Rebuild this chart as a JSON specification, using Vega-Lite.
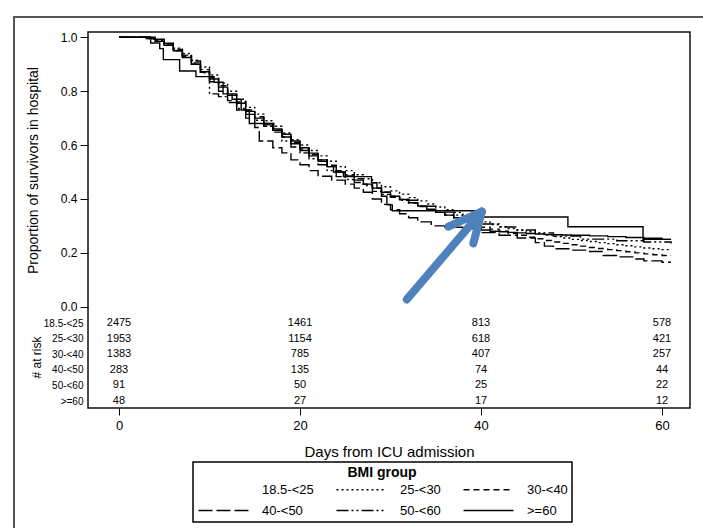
{
  "$schema": "https://vega.github.io/schema/vega-lite/v6.json",
  "width": 602,
  "height": 376,
  "autosize": {"type": "none"},
  "padding": {"left": 88, "top": 32, "right": 13, "bottom": 120},
  "background": "white",
  "config": {
    "font": "Liberation Sans",
    "view": {"stroke": "#111", "strokeWidth": 1.5},
    "axis": {"labelColor": "black", "titleColor": "black", "tickColor": "black", "titleFontWeight": "normal", "grid": false, "domain": false},
    "legend": {
      "orient": "none", "legendX": 105, "legendY": 430, "direction": "horizontal", "columns": 3,
      "titleAnchor": "middle", "titleFontSize": 14, "titleFontWeight": "bold", "titleColor": "black", "titlePadding": 3,
      "labelFontSize": 13, "labelColor": "black", "symbolType": "M-5,0H5", "symbolSize": 100, "symbolOffset": 20,
      "symbolStrokeWidth": 1.3, "symbolStrokeColor": "black", "strokeColor": "black", "strokeWidth": 1.5, "padding": 4,
      "columnPadding": 19, "rowPadding": 7, "labelOffset": 32
    }
  },
  "datasets": {
    "km": [
      {"group":"18.5-<25","day":0,"surv":1},{"group":"18.5-<25","day":3,"surv":0.995},{"group":"18.5-<25","day":4,"surv":0.985},{"group":"18.5-<25","day":5,"surv":0.97},{"group":"18.5-<25","day":6,"surv":0.95},{"group":"18.5-<25","day":7,"surv":0.925},{"group":"18.5-<25","day":8,"surv":0.9},{"group":"18.5-<25","day":9,"surv":0.872},{"group":"18.5-<25","day":10,"surv":0.845},{"group":"18.5-<25","day":11,"surv":0.815},{"group":"18.5-<25","day":12,"surv":0.785},{"group":"18.5-<25","day":13,"surv":0.755},{"group":"18.5-<25","day":14,"surv":0.725},{"group":"18.5-<25","day":15,"surv":0.7},{"group":"18.5-<25","day":16,"surv":0.675},{"group":"18.5-<25","day":17,"surv":0.655},{"group":"18.5-<25","day":18,"surv":0.63},{"group":"18.5-<25","day":19,"surv":0.605},{"group":"18.5-<25","day":20,"surv":0.58},{"group":"18.5-<25","day":21,"surv":0.56},{"group":"18.5-<25","day":22,"surv":0.54},{"group":"18.5-<25","day":23,"surv":0.52},{"group":"18.5-<25","day":24,"surv":0.5},{"group":"18.5-<25","day":25,"surv":0.485},{"group":"18.5-<25","day":26,"surv":0.47},{"group":"18.5-<25","day":27,"surv":0.455},{"group":"18.5-<25","day":28,"surv":0.44},{"group":"18.5-<25","day":29,"surv":0.425},{"group":"18.5-<25","day":30,"surv":0.41},{"group":"18.5-<25","day":31,"surv":0.398},{"group":"18.5-<25","day":32,"surv":0.386},{"group":"18.5-<25","day":33,"surv":0.374},{"group":"18.5-<25","day":34,"surv":0.362},{"group":"18.5-<25","day":35,"surv":0.35},{"group":"18.5-<25","day":36,"surv":0.34},{"group":"18.5-<25","day":37,"surv":0.33},{"group":"18.5-<25","day":38,"surv":0.318},{"group":"18.5-<25","day":39,"surv":0.304},{"group":"18.5-<25","day":40,"surv":0.285},{"group":"18.5-<25","day":41,"surv":0.28},{"group":"18.5-<25","day":42,"surv":0.278},{"group":"18.5-<25","day":43,"surv":0.276},{"group":"18.5-<25","day":44,"surv":0.274},{"group":"18.5-<25","day":45,"surv":0.272},{"group":"18.5-<25","day":46,"surv":0.27},{"group":"18.5-<25","day":47,"surv":0.268},{"group":"18.5-<25","day":48,"surv":0.267},{"group":"18.5-<25","day":49,"surv":0.266},{"group":"18.5-<25","day":50,"surv":0.265},{"group":"18.5-<25","day":52,"surv":0.263},{"group":"18.5-<25","day":54,"surv":0.26},{"group":"18.5-<25","day":56,"surv":0.257},{"group":"18.5-<25","day":58,"surv":0.254},{"group":"18.5-<25","day":60,"surv":0.25},{"group":"18.5-<25","day":61,"surv":0.25},
      {"group":"25-<30","day":0,"surv":1},{"group":"25-<30","day":3,"surv":0.996},{"group":"25-<30","day":4,"surv":0.99},{"group":"25-<30","day":5,"surv":0.975},{"group":"25-<30","day":6,"surv":0.96},{"group":"25-<30","day":7,"surv":0.94},{"group":"25-<30","day":8,"surv":0.915},{"group":"25-<30","day":9,"surv":0.89},{"group":"25-<30","day":10,"surv":0.86},{"group":"25-<30","day":11,"surv":0.83},{"group":"25-<30","day":12,"surv":0.8},{"group":"25-<30","day":13,"surv":0.77},{"group":"25-<30","day":14,"surv":0.74},{"group":"25-<30","day":15,"surv":0.715},{"group":"25-<30","day":16,"surv":0.69},{"group":"25-<30","day":17,"surv":0.67},{"group":"25-<30","day":18,"surv":0.645},{"group":"25-<30","day":19,"surv":0.62},{"group":"25-<30","day":20,"surv":0.6},{"group":"25-<30","day":21,"surv":0.58},{"group":"25-<30","day":22,"surv":0.56},{"group":"25-<30","day":23,"surv":0.54},{"group":"25-<30","day":24,"surv":0.52},{"group":"25-<30","day":25,"surv":0.505},{"group":"25-<30","day":26,"surv":0.49},{"group":"25-<30","day":27,"surv":0.475},{"group":"25-<30","day":28,"surv":0.46},{"group":"25-<30","day":29,"surv":0.445},{"group":"25-<30","day":30,"surv":0.43},{"group":"25-<30","day":31,"surv":0.418},{"group":"25-<30","day":32,"surv":0.405},{"group":"25-<30","day":33,"surv":0.393},{"group":"25-<30","day":34,"surv":0.381},{"group":"25-<30","day":35,"surv":0.37},{"group":"25-<30","day":36,"surv":0.36},{"group":"25-<30","day":37,"surv":0.35},{"group":"25-<30","day":38,"surv":0.338},{"group":"25-<30","day":39,"surv":0.326},{"group":"25-<30","day":40,"surv":0.315},{"group":"25-<30","day":41,"surv":0.305},{"group":"25-<30","day":42,"surv":0.297},{"group":"25-<30","day":43,"surv":0.29},{"group":"25-<30","day":44,"surv":0.284},{"group":"25-<30","day":45,"surv":0.278},{"group":"25-<30","day":46,"surv":0.272},{"group":"25-<30","day":47,"surv":0.266},{"group":"25-<30","day":48,"surv":0.26},{"group":"25-<30","day":49,"surv":0.255},{"group":"25-<30","day":50,"surv":0.25},{"group":"25-<30","day":51,"surv":0.246},{"group":"25-<30","day":52,"surv":0.242},{"group":"25-<30","day":53,"surv":0.238},{"group":"25-<30","day":54,"surv":0.234},{"group":"25-<30","day":55,"surv":0.23},{"group":"25-<30","day":56,"surv":0.226},{"group":"25-<30","day":57,"surv":0.222},{"group":"25-<30","day":58,"surv":0.218},{"group":"25-<30","day":59,"surv":0.215},{"group":"25-<30","day":60,"surv":0.212},{"group":"25-<30","day":61,"surv":0.212},
      {"group":"30-<40","day":0,"surv":1},{"group":"30-<40","day":3,"surv":0.995},{"group":"30-<40","day":4,"surv":0.985},{"group":"30-<40","day":5,"surv":0.97},{"group":"30-<40","day":6,"surv":0.95},{"group":"30-<40","day":7,"surv":0.93},{"group":"30-<40","day":8,"surv":0.905},{"group":"30-<40","day":9,"surv":0.88},{"group":"30-<40","day":10,"surv":0.85},{"group":"30-<40","day":11,"surv":0.82},{"group":"30-<40","day":12,"surv":0.79},{"group":"30-<40","day":13,"surv":0.76},{"group":"30-<40","day":14,"surv":0.73},{"group":"30-<40","day":15,"surv":0.705},{"group":"30-<40","day":16,"surv":0.68},{"group":"30-<40","day":17,"surv":0.655},{"group":"30-<40","day":18,"surv":0.63},{"group":"30-<40","day":19,"surv":0.61},{"group":"30-<40","day":20,"surv":0.585},{"group":"30-<40","day":21,"surv":0.565},{"group":"30-<40","day":22,"surv":0.545},{"group":"30-<40","day":23,"surv":0.525},{"group":"30-<40","day":24,"surv":0.505},{"group":"30-<40","day":25,"surv":0.49},{"group":"30-<40","day":26,"surv":0.475},{"group":"30-<40","day":27,"surv":0.455},{"group":"30-<40","day":28,"surv":0.44},{"group":"30-<40","day":29,"surv":0.425},{"group":"30-<40","day":30,"surv":0.41},{"group":"30-<40","day":31,"surv":0.398},{"group":"30-<40","day":32,"surv":0.385},{"group":"30-<40","day":33,"surv":0.372},{"group":"30-<40","day":34,"surv":0.36},{"group":"30-<40","day":35,"surv":0.35},{"group":"30-<40","day":36,"surv":0.34},{"group":"30-<40","day":37,"surv":0.328},{"group":"30-<40","day":38,"surv":0.316},{"group":"30-<40","day":39,"surv":0.305},{"group":"30-<40","day":40,"surv":0.295},{"group":"30-<40","day":41,"surv":0.288},{"group":"30-<40","day":42,"surv":0.28},{"group":"30-<40","day":43,"surv":0.272},{"group":"30-<40","day":44,"surv":0.265},{"group":"30-<40","day":45,"surv":0.258},{"group":"30-<40","day":46,"surv":0.252},{"group":"30-<40","day":47,"surv":0.246},{"group":"30-<40","day":48,"surv":0.24},{"group":"30-<40","day":49,"surv":0.235},{"group":"30-<40","day":50,"surv":0.23},{"group":"30-<40","day":51,"surv":0.225},{"group":"30-<40","day":52,"surv":0.22},{"group":"30-<40","day":53,"surv":0.216},{"group":"30-<40","day":54,"surv":0.212},{"group":"30-<40","day":55,"surv":0.208},{"group":"30-<40","day":56,"surv":0.204},{"group":"30-<40","day":57,"surv":0.2},{"group":"30-<40","day":58,"surv":0.196},{"group":"30-<40","day":59,"surv":0.193},{"group":"30-<40","day":60,"surv":0.19},{"group":"30-<40","day":61,"surv":0.19},
      {"group":"40-<50","day":0,"surv":1},{"group":"40-<50","day":3.5,"surv":0.993},{"group":"40-<50","day":5,"surv":0.975},{"group":"40-<50","day":6,"surv":0.955},{"group":"40-<50","day":7,"surv":0.93},{"group":"40-<50","day":8,"surv":0.9},{"group":"40-<50","day":9,"surv":0.87},{"group":"40-<50","day":10,"surv":0.835},{"group":"40-<50","day":11,"surv":0.8},{"group":"40-<50","day":12,"surv":0.765},{"group":"40-<50","day":13,"surv":0.73},{"group":"40-<50","day":14,"surv":0.7},{"group":"40-<50","day":15,"surv":0.665},{"group":"40-<50","day":15.5,"surv":0.615},{"group":"40-<50","day":17,"surv":0.59},{"group":"40-<50","day":18,"surv":0.571},{"group":"40-<50","day":19,"surv":0.545},{"group":"40-<50","day":20,"surv":0.527},{"group":"40-<50","day":21,"surv":0.505},{"group":"40-<50","day":22,"surv":0.484},{"group":"40-<50","day":23.5,"surv":0.47},{"group":"40-<50","day":25,"surv":0.455},{"group":"40-<50","day":26,"surv":0.44},{"group":"40-<50","day":27,"surv":0.425},{"group":"40-<50","day":28,"surv":0.4},{"group":"40-<50","day":29,"surv":0.38},{"group":"40-<50","day":30,"surv":0.36},{"group":"40-<50","day":31,"surv":0.345},{"group":"40-<50","day":32,"surv":0.33},{"group":"40-<50","day":33,"surv":0.315},{"group":"40-<50","day":34.5,"surv":0.3},{"group":"40-<50","day":36,"surv":0.295},{"group":"40-<50","day":38,"surv":0.29},{"group":"40-<50","day":40,"surv":0.275},{"group":"40-<50","day":42,"surv":0.265},{"group":"40-<50","day":44,"surv":0.255},{"group":"40-<50","day":46,"surv":0.238},{"group":"40-<50","day":47,"surv":0.225},{"group":"40-<50","day":48,"surv":0.215},{"group":"40-<50","day":50,"surv":0.21},{"group":"40-<50","day":52,"surv":0.205},{"group":"40-<50","day":53.5,"surv":0.19},{"group":"40-<50","day":55,"surv":0.185},{"group":"40-<50","day":57,"surv":0.177},{"group":"40-<50","day":58,"surv":0.17},{"group":"40-<50","day":60,"surv":0.165},{"group":"40-<50","day":61,"surv":0.165},
      {"group":"50-<60","day":0,"surv":1},{"group":"50-<60","day":4,"surv":0.989},{"group":"50-<60","day":5,"surv":0.978},{"group":"50-<60","day":6,"surv":0.956},{"group":"50-<60","day":7,"surv":0.934},{"group":"50-<60","day":8,"surv":0.912},{"group":"50-<60","day":9,"surv":0.868},{"group":"50-<60","day":10,"surv":0.79},{"group":"50-<60","day":11,"surv":0.78},{"group":"50-<60","day":12,"surv":0.758},{"group":"50-<60","day":13,"surv":0.736},{"group":"50-<60","day":14,"surv":0.714},{"group":"50-<60","day":15,"surv":0.692},{"group":"50-<60","day":16,"surv":0.67},{"group":"50-<60","day":17,"surv":0.648},{"group":"50-<60","day":18,"surv":0.615},{"group":"50-<60","day":19,"surv":0.593},{"group":"50-<60","day":20,"surv":0.571},{"group":"50-<60","day":21,"surv":0.549},{"group":"50-<60","day":22,"surv":0.527},{"group":"50-<60","day":23,"surv":0.505},{"group":"50-<60","day":24,"surv":0.483},{"group":"50-<60","day":25,"surv":0.472},{"group":"50-<60","day":26,"surv":0.461},{"group":"50-<60","day":27,"surv":0.45},{"group":"50-<60","day":28,"surv":0.428},{"group":"50-<60","day":29,"surv":0.417},{"group":"50-<60","day":30,"surv":0.406},{"group":"50-<60","day":31,"surv":0.395},{"group":"50-<60","day":33,"surv":0.373},{"group":"50-<60","day":35,"surv":0.351},{"group":"50-<60","day":37,"surv":0.34},{"group":"50-<60","day":38,"surv":0.318},{"group":"50-<60","day":40,"surv":0.307},{"group":"50-<60","day":42,"surv":0.296},{"group":"50-<60","day":44,"surv":0.285},{"group":"50-<60","day":46,"surv":0.274},{"group":"50-<60","day":48,"surv":0.262},{"group":"50-<60","day":51,"surv":0.251},{"group":"50-<60","day":55,"surv":0.245},{"group":"50-<60","day":58,"surv":0.24},{"group":"50-<60","day":61,"surv":0.235},
      {"group":">=60","day":0,"surv":1},{"group":">=60","day":3.5,"surv":0.979},{"group":">=60","day":4.5,"surv":0.958},{"group":">=60","day":4.9,"surv":0.917},{"group":">=60","day":6.7,"surv":0.875},{"group":">=60","day":8.5,"surv":0.854},{"group":">=60","day":10.5,"surv":0.833},{"group":">=60","day":11.5,"surv":0.79},{"group":">=60","day":12.5,"surv":0.77},{"group":">=60","day":13.5,"surv":0.73},{"group":">=60","day":14.4,"surv":0.68},{"group":">=60","day":17.1,"surv":0.66},{"group":">=60","day":18,"surv":0.64},{"group":">=60","day":19,"surv":0.615},{"group":">=60","day":20,"surv":0.59},{"group":">=60","day":21,"surv":0.57},{"group":">=60","day":22,"surv":0.545},{"group":">=60","day":23,"surv":0.52},{"group":">=60","day":23.7,"surv":0.5},{"group":">=60","day":24.8,"surv":0.483},{"group":">=60","day":27.9,"surv":0.46},{"group":">=60","day":28.5,"surv":0.44},{"group":">=60","day":29,"surv":0.41},{"group":">=60","day":29.6,"surv":0.378},{"group":">=60","day":30.2,"surv":0.356},{"group":">=60","day":40,"surv":0.333},{"group":">=60","day":49.6,"surv":0.297},{"group":">=60","day":57.9,"surv":0.25},{"group":">=60","day":61,"surv":0.25}
    ],
    "risk": [
      {"group":"18.5-<25","day":0,"n":2475},{"group":"18.5-<25","day":20,"n":1461},{"group":"18.5-<25","day":40,"n":813},{"group":"18.5-<25","day":60,"n":578},
      {"group":"25-<30","day":0,"n":1953},{"group":"25-<30","day":20,"n":1154},{"group":"25-<30","day":40,"n":618},{"group":"25-<30","day":60,"n":421},
      {"group":"30-<40","day":0,"n":1383},{"group":"30-<40","day":20,"n":785},{"group":"30-<40","day":40,"n":407},{"group":"30-<40","day":60,"n":257},
      {"group":"40-<50","day":0,"n":283},{"group":"40-<50","day":20,"n":135},{"group":"40-<50","day":40,"n":74},{"group":"40-<50","day":60,"n":44},
      {"group":"50-<60","day":0,"n":91},{"group":"50-<60","day":20,"n":50},{"group":"50-<60","day":40,"n":25},{"group":"50-<60","day":60,"n":22},
      {"group":">=60","day":0,"n":48},{"group":">=60","day":20,"n":27},{"group":">=60","day":40,"n":17},{"group":">=60","day":60,"n":12}
    ],
    "arrow": [
      {"day":31.8,"surv":0.027,"day2":40.08,"surv2":0.353},
      {"day":36.4,"surv":0.297,"day2":40.08,"surv2":0.353},
      {"day":39.15,"surv":0.235,"day2":40.08,"surv2":0.353}
    ]
  },
  "layer": [
    {
      "layer": [
        {
          "data": {"values": [{}]},
          "mark": {"type": "rect", "filled": false, "stroke": "#555", "strokeWidth": 2, "clip": false},
          "encoding": {
            "x": {"datum": -11.6, "type": "quantitative", "scale": {"domain": [-3.425, 63.09], "nice": false, "zero": false}, "title": "Days from ICU admission"},
            "x2": {"datum": 72},
            "y": {"datum": 1.0754, "type": "quantitative", "scale": {"domain": [-0.376, 1.0197], "nice": false, "zero": false}, "title": "Proportion of survivors in hospital"},
            "y2": {"datum": -1.2}
          }
        },
        {
          "data": {"name": "km"},
          "mark": {"type": "line", "interpolate": "step-after", "color": "black", "strokeWidth": 1.4},
          "encoding": {
            "x": {"field": "day", "type": "quantitative", "scale": {"domain": [-3.425, 63.09], "nice": false, "zero": false},
              "axis": {"values": [0, 20, 40, 60], "title": "Days from ICU admission", "tickSize": 7, "labelPadding": 4, "labelFontSize": 13, "titleFontSize": 15, "titlePadding": 12}},
            "y": {"field": "surv", "type": "quantitative", "scale": {"domain": [-0.376, 1.0197], "nice": false, "zero": false},
              "axis": {"values": [0, 0.2, 0.4, 0.6, 0.8, 1], "format": ".1f", "title": "Proportion of survivors in hospital", "tickSize": 8, "labelPadding": 3, "labelFontSize": 12, "titleFontSize": 14, "titleX": -50.5, "titleY": 138, "titleBaseline": "alphabetic"}},
            "strokeDash": {"field": "group", "type": "nominal",
              "scale": {"domain": ["18.5-<25", "25-<30", "30-<40", "40-<50", "50-<60", ">=60"], "range": [[1, 0], [2, 3], [6, 4], [14, 4], [12, 3, 2, 3, 2, 3], [1, 0]]},
              "legend": {"title": "BMI group", "encode": {"symbols": {"update": {"opacity": {"signal": "datum.value === '18.5-<25' ? 0 : 1"}}}}}},
            "detail": {"field": "group"}
          }
        },
        {
          "data": {"name": "arrow"},
          "mark": {"type": "rule", "color": "#4F81BD", "strokeWidth": 8, "strokeCap": "round"},
          "encoding": {
            "x": {"field": "day", "type": "quantitative", "title": "Days from ICU admission"},
            "y": {"field": "surv", "type": "quantitative", "title": "Proportion of survivors in hospital"},
            "x2": {"field": "day2"},
            "y2": {"field": "surv2"}
          }
        }
      ]
    },
    {
      "data": {"name": "risk"},
      "mark": {"type": "text", "fontSize": 11, "color": "black", "baseline": "middle"},
      "encoding": {
        "x": {"field": "day", "type": "quantitative", "title": "Days from ICU admission"},
        "y": {"field": "group", "type": "nominal",
          "scale": {"type": "point", "domain": ["18.5-<25", "25-<30", "30-<40", "40-<50", "50-<60", ">=60"], "padding": 0, "range": [291.3, 369]},
          "axis": {"orient": "left", "title": "# at risk", "ticks": false, "labelPadding": 5, "labelFontSize": 10, "titleFontSize": 12, "titleX": -48, "titleY": 325, "titleBaseline": "alphabetic"}},
        "text": {"field": "n", "type": "quantitative", "format": "d"}
      }
    }
  ],
  "resolve": {"scale": {"y": "independent"}, "axis": {"y": "independent"}}
}
